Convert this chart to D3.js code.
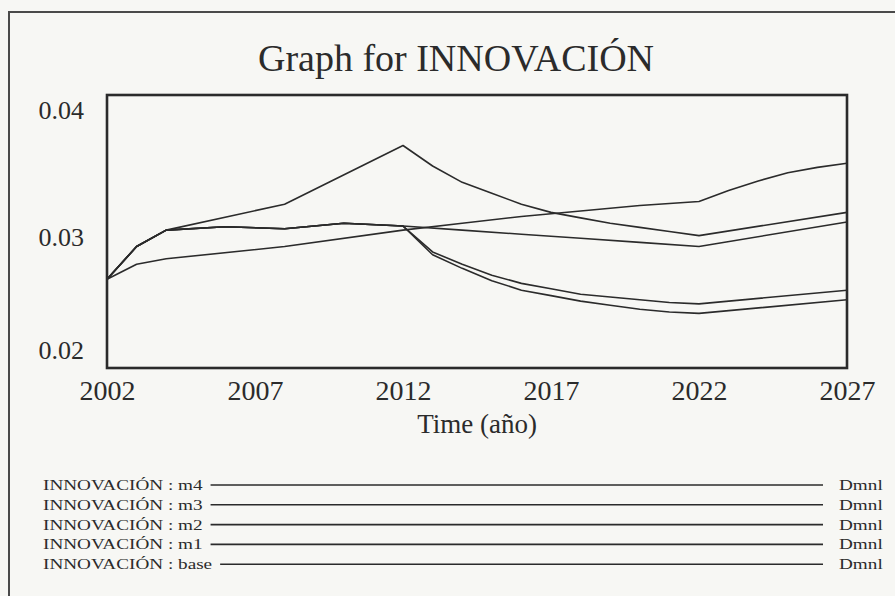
<!DOCTYPE html>
<html>
<head>
<meta charset="utf-8">
<script src="https://cdn.jsdelivr.net/npm/d3@7"></script>
<style>
  body { margin: 0; background: #f7f7f4; }
  svg { display: block; }
  text { font-family: "Liberation Serif", "Times New Roman", serif; fill: #2b2b2b; }
</style>
</head>
<body>
<svg id="chart" width="895" height="596"></svg>
<script>
// Simulation output for INNOVACIÓN (Dmnl), one run per scenario
const baseYears  = [2002, 2003, 2004, 2006, 2008, 2010, 2012, 2014, 2016, 2018, 2020, 2022, 2027];
const baseValues = [0.0265, 0.0289, 0.0301, 0.03035, 0.0302, 0.0306, 0.0304, 0.0301, 0.0298, 0.0295, 0.0292, 0.0289, 0.0307];

const m1Years  = [2002, 2003, 2004, 2008, 2012, 2013, 2014, 2015, 2016, 2017, 2018, 2019, 2020, 2021, 2022, 2027];
const m1Values = [0.0265, 0.0289, 0.0301, 0.0320, 0.0363, 0.0348, 0.0336, 0.0328, 0.0320, 0.0314, 0.0310, 0.0306, 0.0303, 0.0300, 0.0297, 0.0314];

const m2Years  = [2002, 2003, 2004, 2008, 2012, 2014, 2016, 2018, 2020, 2022, 2023, 2024, 2025, 2026, 2027];
const m2Values = [0.0265, 0.0276, 0.0280, 0.0289, 0.0301, 0.0306, 0.0311, 0.0315, 0.0319, 0.0322, 0.0330, 0.0337, 0.0343, 0.0347, 0.0350];

const m3Years  = [2002, 2003, 2004, 2006, 2008, 2010, 2012, 2013, 2014, 2015, 2016, 2017, 2018, 2019, 2020, 2021, 2022, 2027];
const m3Values = [0.0265, 0.0289, 0.0301, 0.03035, 0.0302, 0.0306, 0.0304, 0.0285, 0.0276, 0.0268, 0.0262, 0.0258, 0.0254, 0.0252, 0.0250, 0.0248, 0.0247, 0.0257];

const m4Years  = [2002, 2003, 2004, 2006, 2008, 2010, 2012, 2013, 2014, 2015, 2016, 2017, 2018, 2019, 2020, 2021, 2022, 2027];
const m4Values = [0.0265, 0.0289, 0.0301, 0.03035, 0.0302, 0.0306, 0.0304, 0.0283, 0.0273, 0.0264, 0.0257, 0.0253, 0.0249, 0.0246, 0.0243, 0.0241, 0.0240, 0.0250];

const xTicks = [2002, 2007, 2012, 2017, 2022, 2027];
const yTicks = [0.04, 0.03, 0.02];
const legendNames = ["INNOVACIÓN : m4", "INNOVACIÓN : m3", "INNOVACIÓN : m2", "INNOVACIÓN : m1", "INNOVACIÓN : base"];
const unitLabel = "Dmnl";
const titleText = "Graph for INNOVACIÓN";
const xTitle = "Time (año)";

const series = [
  { years: m4Years, values: m4Values },
  { years: m3Years, values: m3Values },
  { years: m2Years, values: m2Values },
  { years: m1Years, values: m1Values },
  { years: baseYears, values: baseValues }
];

const ink = "#2b2b2b";
const svg = d3.select("#chart");

// outer frame of the graph window
svg.append("rect")
  .attr("x", 9).attr("y", 12).attr("width", 920).attr("height", 620)
  .attr("fill", "none").attr("stroke", "#4a4a4a").attr("stroke-width", 2);

svg.append("text")
  .attr("x", 456).attr("y", 71)
  .attr("text-anchor", "middle")
  .style("font-size", "38px")
  .text(titleText);

const plot = { left: 107, right: 847, top: 95, bottom: 368 };

const x = d3.scaleLinear().domain([2002, 2027]).range([plot.left, plot.right]);
const y = d3.scaleLinear().domain([0.02, 0.04]).range([plot.bottom, plot.top]);

// series lines
const line = d3.line()
  .x(d => x(d[0]))
  .y(d => y(d[1]));

svg.append("g")
  .selectAll("path")
  .data(series)
  .join("path")
  .attr("d", s => line(s.years.map((yr, i) => [yr, s.values[i]])))
  .attr("fill", "none")
  .attr("stroke", ink)
  .attr("stroke-width", 1.6)
  .attr("stroke-linejoin", "round");

// plot frame
svg.append("rect")
  .attr("x", plot.left).attr("y", plot.top)
  .attr("width", plot.right - plot.left).attr("height", plot.bottom - plot.top)
  .attr("fill", "none").attr("stroke", ink).attr("stroke-width", 2.6);

// x axis labels
const xAxis = d3.axisBottom(x)
  .tickValues(xTicks)
  .tickFormat(d3.format("d"))
  .tickSize(0)
  .tickPadding(12);

const gx = svg.append("g")
  .attr("transform", `translate(0,${plot.bottom})`)
  .call(xAxis);
gx.select(".domain").remove();
gx.selectAll("text")
  .attr("fill", ink)
  .style("font-family", '"Liberation Serif", "Times New Roman", serif')
  .style("font-size", "28px");

// y axis labels: top label sits inside the frame top, bottom label above the frame bottom
const yOffset = [18, 9, -15];
svg.append("g")
  .selectAll("text")
  .data(yTicks)
  .join("text")
  .attr("x", 84)
  .attr("y", (d, i) => y(d) + yOffset[i])
  .attr("text-anchor", "end")
  .attr("dominant-baseline", "middle")
  .style("font-size", "26px")
  .text(d => d3.format(".2f")(d));

svg.append("text")
  .attr("x", (plot.left + plot.right) / 2).attr("y", 433)
  .attr("text-anchor", "middle")
  .style("font-size", "27px")
  .text(xTitle);

// legend: one row per run, all drawn in the same ink
const legendTop = 485;
const rowStep = 19.8;
const stretch = 1.28;
const legend = svg.append("g");
legendNames.forEach((name, i) => {
  const cy = legendTop + i * rowStep;
  const label = legend.append("text")
    .attr("transform", `translate(43,${cy + 5}) scale(${stretch},1)`)
    .style("font-size", "15px")
    .text(name);
  const w = label.node().getComputedTextLength() * stretch;
  legend.append("line")
    .attr("x1", 43 + w + 8).attr("x2", 823)
    .attr("y1", cy).attr("y2", cy)
    .attr("stroke", ink).attr("stroke-width", 1.6);
  legend.append("text")
    .attr("transform", `translate(839,${cy + 5}) scale(${stretch},1)`)
    .style("font-size", "15px")
    .text(unitLabel);
});
</script>
</body>
</html>
